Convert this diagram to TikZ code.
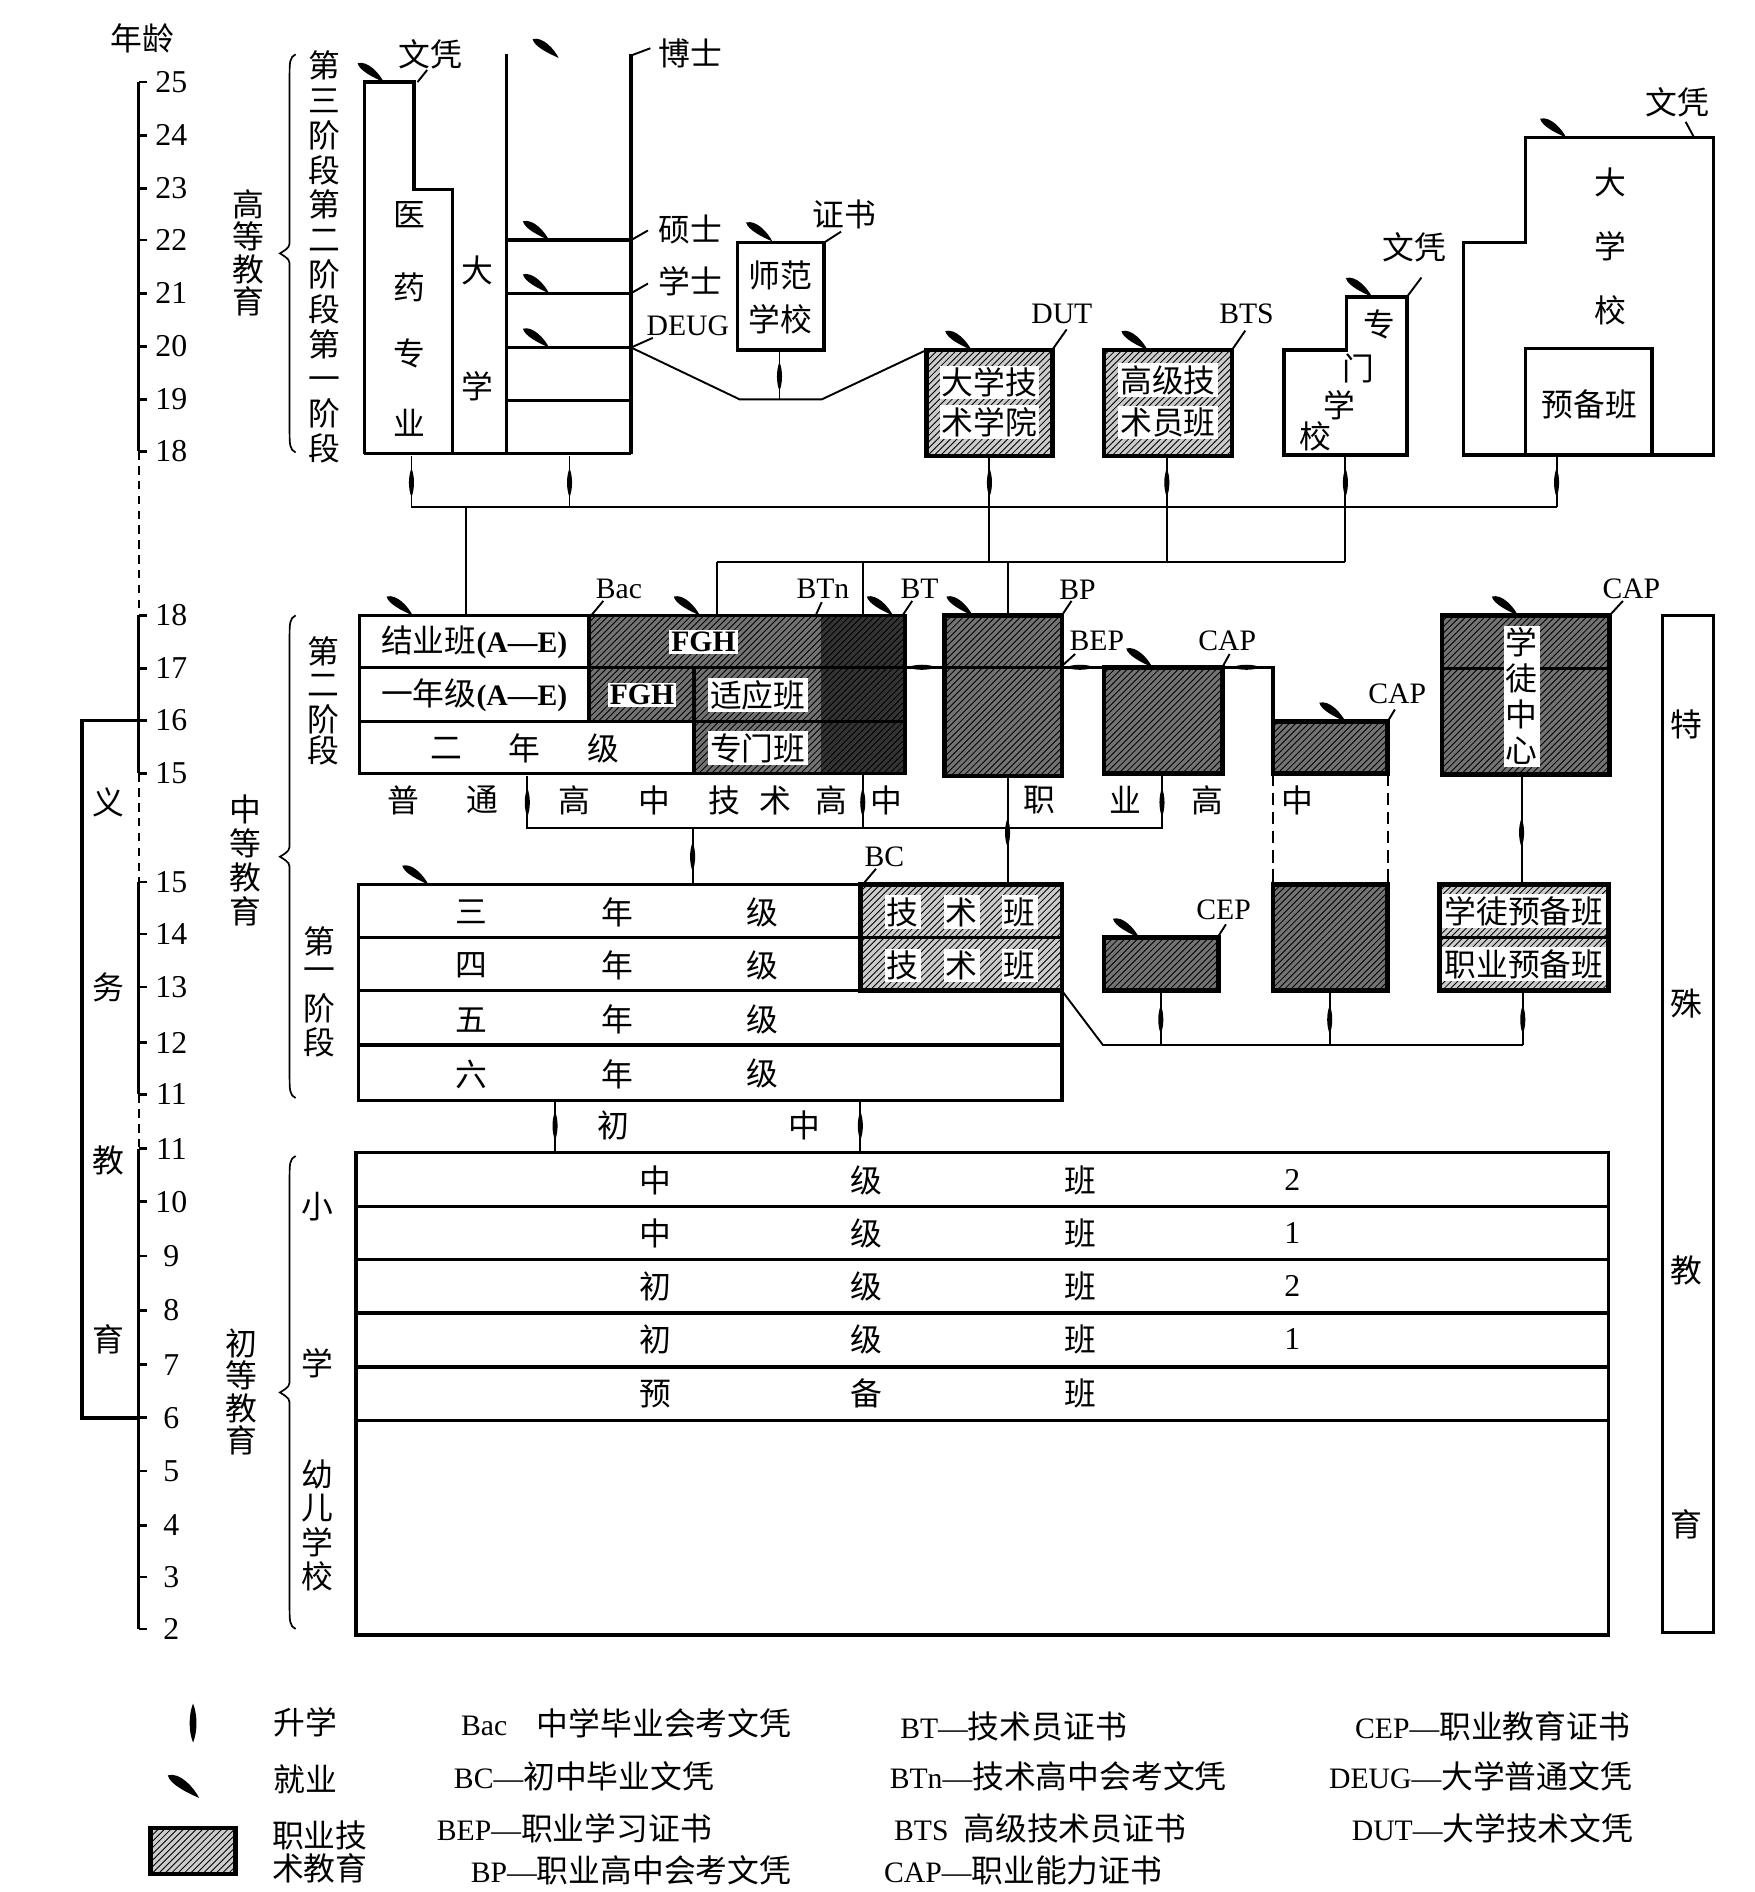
\documentclass[tikz,border=0pt]{standalone}
\usepackage{fontspec}
\setmainfont{Liberation Serif}
\newfontfamily\cjk{Noto Sans CJK SC}
\usetikzlibrary{patterns}
\newcommand\zh[1]{{\cjk\fontsize{15}{15}\selectfont #1}}
\newcommand\sidebrace[3]{%
  \pgfmathsetmacro\bmid{(#2+#3)/2}
  \draw[line width=0.8pt] ({#1+5},#2) .. controls ({#1},{#2+2}) and ({#1},{#2+8}) .. ({#1},{#2+16})
    -- ({#1},{\bmid-12}) .. controls ({#1},{\bmid-5}) .. ({#1-8},\bmid)
    .. controls ({#1},{\bmid+5}) .. ({#1},{\bmid+12})
    -- ({#1},{#3-16}) .. controls ({#1},{#3-8}) and ({#1},{#3-2}) .. ({#1+5},#3);}

\tikzset{
  cn/.style={font=\cjk\fontsize{15}{15}\selectfont, inner sep=0pt},
  lat/.style={font=\fontsize{14}{14}\selectfont, inner sep=0pt},
  num/.style={font=\fontsize{15}{15}\selectfont, inner sep=0pt},
  hl/.style={cn, fill=white, inner sep=1pt},
  rim/.style={line width=1.6pt},
  link/.style={line width=0.9pt},
  axis/.style={line width=1.3pt},
  hatch/.style={preaction={fill=black!20}, pattern=north east lines},
  hatchd/.style={preaction={fill=black!55}, pattern=north east lines},
  voc/.style={hatch, draw, line width=2.2pt},
  vocd/.style={hatchd, draw, line width=2.2pt},
  rise/.pic={\fill (0,-12) .. controls (2.8,-5) and (2.8,5) .. (0,12) .. controls (-2.8,5) and (-2.8,-5) .. cycle;},
  leaf/.pic={\fill[scale=1.2] (-18,-13) .. controls (-11,-15) and (-3,-6) .. (0,0) .. controls (-7,-3) and (-17,-8) .. cycle;}
}

\begin{document}
\begin{tikzpicture}[x=0.02cm, y=-0.02cm]
\useasboundingbox (0,0) rectangle (1454,1568);

% age scale
\node[cn] (nianling) at (118,32) {年龄};
\foreach \a/\y in {25/68,24/112,23/156,22/199,21/243,20/287,19/331,18/374}
  {\draw[axis] (115,\y) -- (122,\y); \node[num] (ua\a) at (142,\y) {\a};}
\draw[axis] (115,68) -- (115,374);
\foreach \a/\y in {18/510,17/554,16/597,15/641}
  {\draw[axis] (115,\y) -- (122,\y); \node[num] (ma\a) at (142,\y) {\a};}
\draw[axis] (115,510) -- (115,641);
\foreach \a/\y in {15/731,14/774,13/818,12/864,11/907}
  {\draw[axis] (115,\y) -- (122,\y); \node[num] (la\a) at (142,\y) {\a};}
\draw[axis] (115,731) -- (115,907);
\foreach \a/\y in {11/952,10/996,9/1041,8/1086,7/1131,6/1175,5/1219,4/1264,3/1307,2/1350}
  {\draw[axis] (115,\y) -- (122,\y); \node[num] (pa\a) at (142,\y) {\a};}
\draw[axis] (115,952) -- (115,1350);
\draw[line width=0.7pt, dash pattern=on 4pt off 3pt] (115,374) -- (115,510) (115,641) -- (115,731) (115,907) -- (115,952);

% compulsory education
\draw[rim] (115,597) -- (68,597) -- (68,1175) -- (115,1175);
\foreach \c/\y in {义/665,务/818,教/962,育/1110} \node[cn] (yw\y) at (90,\y) {\c};

% left labels and braces
\sidebrace{240}{45}{375}
\sidebrace{240}{510}{910}
\sidebrace{240}{958}{1350}
\foreach \c/\y in {高/169,等/196,教/223,育/250} \node[cn] (gd\y) at (206,\y) {\c};
\foreach \c/\y in {中/671,等/699,教/727,育/755} \node[cn] (zd\y) at (203,\y) {\c};
\foreach \c/\y in {初/1113,等/1140,教/1167,育/1194} \node[cn] (cd\y) at (200,\y) {\c};
\node[cn, align=center, font=\cjk\fontsize{15}{16.4}\selectfont] (jd123) at (269,213)
  {第\\三\\阶\\段\\第\\二\\阶\\段\\第\\一\\阶\\段};
\foreach \c/\y in {第/540,二/568,阶/596,段/622} \node[cn] (de\y) at (268,\y) {\c};
\foreach \c/\y in {第/780,一/808,阶/836,段/864} \node[cn] (dy\y) at (265,\y) {\c};
\foreach \c/\y in {小/1000,学/1130,幼/1222,儿/1250,学/1278,校/1306} \node[cn] (xx\y) at (263,\y) {\c};

% higher education
\draw[rim] (302,376) -- (302,68) -- (343,68) -- (343,157) -- (375,157) -- (375,376);
\draw[rim] (302,376) -- (523,376);
\draw[rim] (420,45) -- (420,376);
\draw[rim] (523,45) -- (523,376);
\foreach \y in {199,243,288,332} \draw[rim] (420,\y) -- (523,\y);
\foreach \c/\y in {医/178,药/238,专/293,业/350} \node[cn] (yy\y) at (339,\y) {\c};
\node[cn] (dx1) at (396,224) {大};
\node[cn] (dx2) at (396,320) {学};
\pic at (318,68) {leaf};
\pic at (463,48) {leaf};
\foreach \y in {199,243,288} \pic at (455,\y) {leaf};
\node[cn] (wenping1) at (357,45) {文凭};
\draw[link] (346,68) -- (354,58);
\node[cn] (boshi) at (572,44) {博士};
\draw[link] (523,46) -- (539,40);
\node[cn] (shuoshi) at (572,190) {硕士};
\draw[link] (523,199) -- (537,191);
\node[cn] (xueshi) at (572,233) {学士};
\draw[link] (523,243) -- (537,235);
\node[lat] (deug) at (570,270) {DEUG};
\draw[link] (523,288) -- (541,280);

% normal school
\draw[rim] (611,201) rectangle (683,290);
\node[cn] (shifan) at (647,228) {师范};
\node[cn] (xuexiao) at (647,265) {学校};
\pic at (640,200) {leaf};
\node[cn] (zhengshu) at (700,178) {证书};
\draw[link] (683,201) -- (697,192);
\draw[link] (523,288) -- (613,331) -- (681,331) -- (768,290);
\draw[link] (646,331) -- (646,290);
\pic at (646,312) {rise};

% IUT and BTS
\draw[voc] (768,290) rectangle (872,378);
\node[hl] (iut1) at (820,317) {大学技};
\node[hl] (iut2) at (820,350) {术学院};
\pic at (805,290) {leaf};
\node[lat] (dut) at (880,260) {DUT};
\draw[link] (872,290) -- (884,273);
\draw[voc] (915,290) rectangle (1021,378);
\node[hl] (sts1) at (968,315) {高级技};
\node[hl] (sts2) at (968,350) {术员班};
\pic at (951,290) {leaf};
\node[lat] (bts) at (1033,260) {BTS};
\draw[link] (1021,290) -- (1032,274);

% special school and grandes ecoles
\draw[rim] (1064,377) -- (1064,290) -- (1116,290) -- (1116,246) -- (1166,246) -- (1166,377) -- cycle;
\node[cn] (zm1) at (1143,269) {专};
\node[cn] (zm2) at (1126,305) {门};
\node[cn] (zm3) at (1110,336) {学};
\node[cn] (zm4) at (1090,362) {校};
\pic at (1137,246) {leaf};
\node[cn] (wenping2) at (1172,205) {文凭};
\draw[link] (1166,246) -- (1178,230);
\draw[rim] (1213,377) -- (1213,201) -- (1264,201) -- (1264,114) -- (1420,114) -- (1420,377) -- cycle;
\draw[rim] (1264,377) -- (1264,289) -- (1369,289) -- (1369,377);
\node[cn] (dxx1) at (1335,151) {大};
\node[cn] (dxx2) at (1335,204) {学};
\node[cn] (dxx3) at (1335,257) {校};
\node[cn] (yubei) at (1317,335) {预备班};
\pic at (1298,114) {leaf};
\node[cn] (wenping3) at (1390,85) {文凭};
\draw[link] (1404,114) -- (1397,101);

% links between higher and secondary
\foreach \x in {341,472,820,967,1115,1290} {\draw[link] (\x,378) -- (\x,420); \pic at (\x,400) {rise};}
\draw[link] (341,420) -- (1290,420);
\draw[link] (386,420) -- (386,510);
\draw[link] (820,420) -- (820,466) (967,420) -- (967,466) (1115,420) -- (1115,466);
\draw[link] (594,466) -- (1115,466);
\draw[link] (594,466) -- (594,510) (715,466) -- (715,510) (835,466) -- (835,510);

% secondary, second stage
\path[hatchd] (488,510) -- (750,510) -- (750,641) -- (575,641) -- (575,598) -- (488,598) -- cycle;
\path[preaction={fill=black!80}, pattern=north east lines] (680,510) rectangle (750,641);
\draw[rim] (298,510) rectangle (750,641);
\draw[rim] (298,553) -- (750,553) (298,598) -- (750,598) (488,510) -- (488,598) (575,553) -- (575,641);
\node[cn] (jieye) at (393,532) {结业班{\rmfamily\bfseries\fontsize{14}{14}\selectfont(A—E)}};
\node[cn] (yinian) at (393,576) {一年级{\rmfamily\bfseries\fontsize{14}{14}\selectfont(A—E)}};
\node[cn] (er) at (370,620) {二};
\node[cn] (ernian) at (435,620) {年};
\node[cn] (erji) at (500,620) {级};
\node[lat, fill=white, inner sep=1pt, font=\fontsize{14}{14}\selectfont\bfseries] (fgh1) at (583,532) {FGH};
\node[lat, fill=white, inner sep=1pt, font=\fontsize{14}{14}\selectfont\bfseries] (fgh2) at (532,576) {FGH};
\node[hl] (shiying) at (628,576) {适应班};
\node[hl] (zhuanmen) at (628,620) {专门班};
\pic at (342,510) {leaf};
\pic at (580,510) {leaf};
\pic at (740,510) {leaf};
\node[lat] (bac) at (513,488) {Bac};
\draw[link] (490,510) -- (500,498);
\node[lat] (btn) at (682,488) {BTn};
\draw[link] (676,510) -- (681,499);
\node[lat] (bt) at (762,488) {BT};
\draw[link] (748,510) -- (756,498);

% vocational boxes
\draw[vocd] (783,510) rectangle (880,643);
\draw[vocd] (915,553) rectangle (1013,641);
\draw[vocd] (1055,598) rectangle (1150,641);
\draw[vocd] (1195,510) rectangle (1334,642);
\draw[rim] (1195,554) -- (1334,554);
\draw[rim] (750,553) -- (1055,553) -- (1055,598);
\foreach \x in {764,895,1033} \pic[rotate=90] at (\x,553) {rise};
\node[cn, fill=white, inner sep=1pt, align=center, font=\cjk\fontsize{15}{17}\selectfont] (xtzx) at (1261,577) {学\\徒\\中\\心};
\pic at (806,510) {leaf};
\pic at (955,553) {leaf};
\pic at (1115,598) {leaf};
\pic at (1258,510) {leaf};
\node[lat] (bp) at (893,489) {BP};
\draw[link] (880,510) -- (888,498);
\node[lat] (bep) at (909,531) {BEP};
\draw[link] (880,552) -- (891,542);
\node[lat] (cap1) at (1017,531) {CAP};
\draw[link] (1013,553) -- (1019,542);
\node[lat] (cap2) at (1158,575) {CAP};
\draw[link] (1150,598) -- (1156,588);
\node[lat] (cap3) at (1352,488) {CAP};
\draw[link] (1334,510) -- (1345,498);

% stream labels
\foreach \c/\x in {普/334,通/400,高/476,中/542,技/600,术/643,高/689,中/735,职/861,业/933,高/1001,中/1075}
  \node[cn] (lx\x) at (\x,663) {\c};
\draw[link] (437,643) -- (437,686) -- (963,686) -- (963,641);
\pic at (437,665) {rise};
\pic at (963,665) {rise};
\draw[link] (715,641) -- (715,686);
\pic at (715,665) {rise};
\draw[link] (574,686) -- (574,733);
\pic at (574,710) {rise};
\draw[link] (835,643) -- (835,733);
\pic at (835,690) {rise};
\draw[link, dash pattern=on 6pt off 3pt] (1055,641) -- (1055,733) (1150,641) -- (1150,733);
\draw[link] (1261,642) -- (1261,733);
\pic at (1261,690) {rise};

% secondary, first stage
\path[hatch] (713,733) rectangle (880,821);
\draw[rim] (297,733) rectangle (880,912);
\draw[rim] (297,777) -- (880,777) (297,821) -- (880,821) (297,866) -- (880,866);
\draw[line width=2.2pt] (713,733) rectangle (880,821);
\foreach \n/\y in {三/756,四/800,五/845,六/890}
  {\node[cn] (g\y a) at (391,\y) {\n}; \node[cn] (g\y b) at (512,\y) {年}; \node[cn] (g\y c) at (632,\y) {级};}
\foreach \y in {756,800}
  {\node[hl] (js\y a) at (748,\y) {技}; \node[hl] (js\y b) at (797,\y) {术}; \node[hl] (js\y c) at (845,\y) {班};}
\pic at (355,733) {leaf};
\node[lat] (bc) at (733,710) {BC};
\draw[link] (715,733) -- (726,720);

\draw[vocd] (915,777) rectangle (1010,821);
\draw[vocd] (1055,733) rectangle (1150,821);
\draw[voc] (1193,733) rectangle (1333,821);
\draw[rim] (1193,777) -- (1333,777);
\node[hl] (xtyb) at (1263,755) {学徒预备班};
\node[hl] (zyyb) at (1263,799) {职业预备班};
\pic at (944,777) {leaf};
\node[lat] (cep) at (1014,754) {CEP};
\draw[link] (1009,777) -- (1016,766);
\draw[link] (880,821) -- (914,866) -- (1262,866);
\foreach \x in {962,1102,1262} {\draw[link] (\x,821) -- (\x,866); \pic at (\x,845) {rise};}

% lower secondary entry
\foreach \x in {460,713} {\draw[link] (\x,912) -- (\x,955); \pic at (\x,933) {rise};}
\node[cn] (chu) at (508,933) {初};
\node[cn] (zhong) at (667,933) {中};

% primary and nursery
\draw[rim] (295,955) rectangle (1333,1355);
\foreach \y in {1000,1044,1088,1133,1177} \draw[rim] (295,\y) -- (1333,\y);
\foreach \y/\a/\d in {978/中/2,1022/中/1,1066/初/2,1110/初/1}
  {\node[cn] (p\y a) at (543,\y) {\a}; \node[cn] (p\y b) at (718,\y) {级};
   \node[cn] (p\y c) at (895,\y) {班}; \node[num] (p\y d) at (1071,\y) {\d};}
\node[cn] (yu) at (543,1155) {预};
\node[cn] (bei) at (718,1155) {备};
\node[cn] (ban) at (895,1155) {班};

% special education
\draw[rim] (1378,510) rectangle (1420,1353);
\foreach \c/\y in {特/600,殊/832,教/1053,育/1263} \node[cn] (ts\y) at (1398,\y) {\c};

% legend
\pic[scale=1.35] at (160,1428) {rise};
\node[cn] (lgsx) at (253,1427) {升学};
\pic[scale=1.2] at (165,1490) {leaf};
\node[cn] (lgjy) at (253,1475) {就业};
\draw[voc] (125,1515) rectangle (195,1553);
\node[cn] (lgzy1) at (265,1521) {职业技};
\node[cn] (lgzy2) at (265,1548) {术教育};
\node[lat] (lgbac) at (519,1428) {Bac\quad\zh{中学毕业会考文凭}};
\node[lat] (lgbc) at (484,1472) {BC—\zh{初中毕业文凭}};
\node[lat] (lgbep) at (476,1515) {BEP—\zh{职业学习证书}};
\node[lat] (lgbp) at (523,1550) {BP—\zh{职业高中会考文凭}};
\node[lat] (lgbt) at (840,1431) {BT—\zh{技术员证书}};
\node[lat] (lgbtn) at (877,1472) {BTn—\zh{技术高中会考文凭}};
\node[lat] (lgbts) at (862,1515) {BTS\enspace\zh{高级技术员证书}};
\node[lat] (lgcap) at (848,1550) {CAP—\zh{职业能力证书}};
\node[lat] (lgcep) at (1237,1431) {CEP—\zh{职业教育证书}};
\node[lat] (lgdeug) at (1227,1472) {DEUG—\zh{大学普通文凭}};
\node[lat] (lgdut) at (1237,1515) {DUT—\zh{大学技术文凭}};
\end{tikzpicture}
\end{document}
